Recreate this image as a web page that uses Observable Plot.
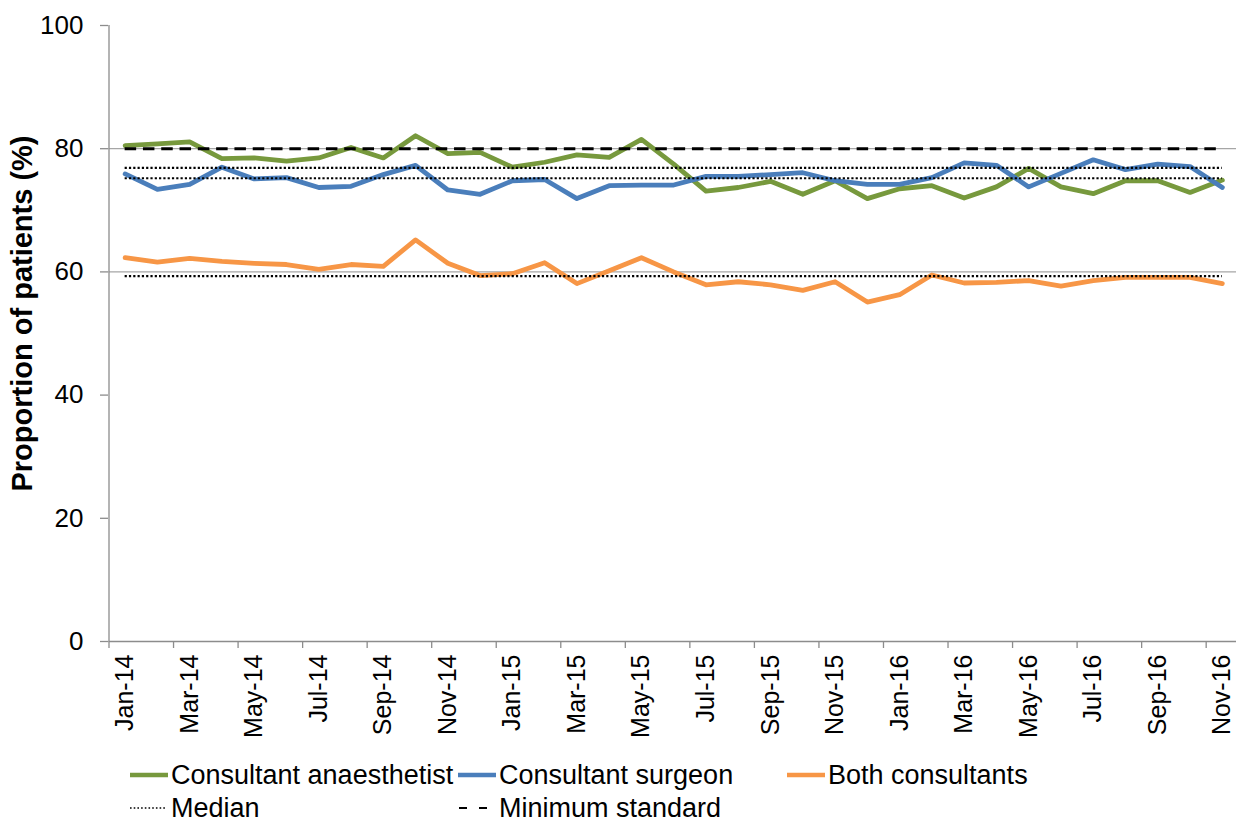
<!DOCTYPE html>
<html>
<head>
<meta charset="utf-8">
<script src="https://cdn.jsdelivr.net/npm/d3@7"></script>
<script src="https://cdn.jsdelivr.net/npm/@observablehq/plot@0.6"></script>
<style>
  body { margin: 0; background: #fff; font-family: "Liberation Sans", Arial, sans-serif; }
  #wrap { position: relative; width: 1236px; height: 825px; overflow: hidden; background: #fff; }
  #chart svg { display: block; overflow: hidden; }
  .leg { position: absolute; height: 24px; line-height: 24px; font-size: 27px; white-space: nowrap; display: flex; align-items: center; color: #000; }
  .leg svg { display: block; margin-right: 2px; }
</style>
</head>
<body>
<div id="wrap"><div id="chart"></div></div>
<script>
const months = [
  "Jan-14","Feb-14","Mar-14","Apr-14","May-14","Jun-14","Jul-14","Aug-14","Sep-14","Oct-14","Nov-14","Dec-14",
  "Jan-15","Feb-15","Mar-15","Apr-15","May-15","Jun-15","Jul-15","Aug-15","Sep-15","Oct-15","Nov-15","Dec-15",
  "Jan-16","Feb-16","Mar-16","Apr-16","May-16","Jun-16","Jul-16","Aug-16","Sep-16","Oct-16","Nov-16"
];
const anaesthetist = [80.5,80.8,81.1,78.4,78.5,78.0,78.5,80.2,78.5,82.1,79.2,79.4,
  77.0,77.8,79.0,78.6,81.5,77.5,73.1,73.7,74.7,72.6,74.8,71.9,
  73.5,74.0,72.0,73.8,76.8,73.8,72.7,74.8,74.8,72.9,74.9];
const surgeon = [75.9,73.4,74.2,77.0,75.1,75.3,73.7,73.9,75.8,77.3,73.3,72.6,
  74.8,75.0,71.9,74.0,74.1,74.1,75.5,75.5,75.8,76.1,74.8,74.2,
  74.2,75.3,77.7,77.3,73.8,76.0,78.2,76.6,77.5,77.1,73.7];
const both = [62.3,61.6,62.2,61.7,61.4,61.2,60.4,61.2,60.9,65.2,61.4,59.4,
  59.7,61.5,58.1,60.2,62.3,60.0,57.9,58.4,57.9,57.0,58.4,55.1,
  56.3,59.5,58.2,58.3,58.6,57.7,58.6,59.1,59.1,59.1,58.1];
const medians = [76.9, 75.2, 59.3];
const minimumStandard = [80];
const gridValues = [60, 80];
const yTicks = [0, 20, 40, 60, 80, 100];
const yTitle = "Proportion of patients (%)";

const seriesNames = ["Consultant anaesthetist", "Consultant surgeon", "Both consultants"];
const seriesColors = ["#77993d", "#4a7ebb", "#f79646"];

const toRows = (arr) => arr.map((v, i) => ({i: i + 0.5, v}));
const nBands = 36;
const x0 = 108.5, bandW = 32.27;
const labelTicks = d3.range(0, months.length, 2).map(i => i + 0.5);
const boundaryTicks = d3.range(0, nBands + 1, 2);

const plot = Plot.plot({
  width: 1236,
  height: 740,
  marginTop: 25,
  marginBottom: 99,
  marginLeft: 108,
  marginRight: 0,
  style: {fontFamily: "Liberation Sans, Arial, sans-serif", background: "#fff", overflow: "hidden"},
  x: {type: "linear", domain: [0, nBands], range: [x0, x0 + nBands * bandW]},
  y: {domain: [0, 100]},
  marks: [
    Plot.ruleY(gridValues, {x1: 0, x2: nBands, stroke: "#a6a6a6", strokeWidth: 1.3}),
    Plot.ruleX([0], {stroke: "#8c8c8c", strokeWidth: 1.3}),
    Plot.ruleY([0], {x1: 0, x2: nBands, stroke: "#8c8c8c", strokeWidth: 1.3}),
    Plot.axisY({ticks: yTicks, tickSize: 8, tickFormat: () => "", stroke: "#8c8c8c", strokeWidth: 1.3, label: null}),
    Plot.axisY({ticks: yTicks, tickSize: 0, tickPadding: 25, fontSize: 26, fill: "#000", label: null}),
    Plot.axisX({ticks: boundaryTicks, tickSize: 7, tickFormat: () => "", stroke: "#8c8c8c", strokeWidth: 1.3, label: null}),
    Plot.axisX({ticks: labelTicks, tickSize: 0, tickPadding: 13, tickRotate: -90, fontSize: 25, fill: "#000",
      tickFormat: d => months[Math.floor(d)], label: null}),
    Plot.text([yTitle], {frameAnchor: "left", rotate: -90, dx: -86, dy: -20, fontSize: 29, fontWeight: "bold", fill: "#000", textAnchor: "middle"}),
    Plot.line(toRows(anaesthetist), {x: "i", y: "v", stroke: seriesColors[0], strokeWidth: 4.8, strokeLinejoin: "round", strokeLinecap: "round"}),
    Plot.line(toRows(surgeon), {x: "i", y: "v", stroke: seriesColors[1], strokeWidth: 4.8, strokeLinejoin: "round", strokeLinecap: "round"}),
    Plot.line(toRows(both), {x: "i", y: "v", stroke: seriesColors[2], strokeWidth: 4.8, strokeLinejoin: "round", strokeLinecap: "round"}),
    Plot.ruleY(medians, {x1: 0.5, x2: months.length - 0.5, stroke: "#000", strokeWidth: 2.2, strokeDasharray: "2.2,2.1"}),
    Plot.ruleY(minimumStandard, {x1: 0.5, x2: months.length - 0.5, stroke: "#000", strokeWidth: 3, strokeDasharray: "11.5,6.8"})
  ]
});
document.getElementById("chart").appendChild(plot);

// Legend (HTML, below the SVG)
const wrap = document.getElementById("wrap");
function legendItem(left, cy, label, swatch) {
  const d = document.createElement("div");
  d.className = "leg";
  d.style.left = left + "px";
  d.style.top = (cy - 12) + "px";
  d.innerHTML = `<svg width="40" height="24">${swatch}</svg><span>${label}</span>`;
  wrap.appendChild(d);
}
const solid = c => `<line x1="1" x2="39" y1="12" y2="12" stroke="${c}" stroke-width="4.5"/>`;
legendItem(129, 775, seriesNames[0], solid(seriesColors[0]));
legendItem(457, 775, seriesNames[1], solid(seriesColors[1]));
legendItem(786, 775, seriesNames[2], solid(seriesColors[2]));
legendItem(129, 808, "Median", `<line x1="1" x2="37" y1="12" y2="12" stroke="#000" stroke-width="1.6" stroke-dasharray="1.6,2.1"/>`);
legendItem(457, 808, "Minimum standard", `<line x1="2" x2="30" y1="12" y2="12" stroke="#000" stroke-width="2.2" stroke-dasharray="8,12"/>`);
</script>
</body>
</html>
